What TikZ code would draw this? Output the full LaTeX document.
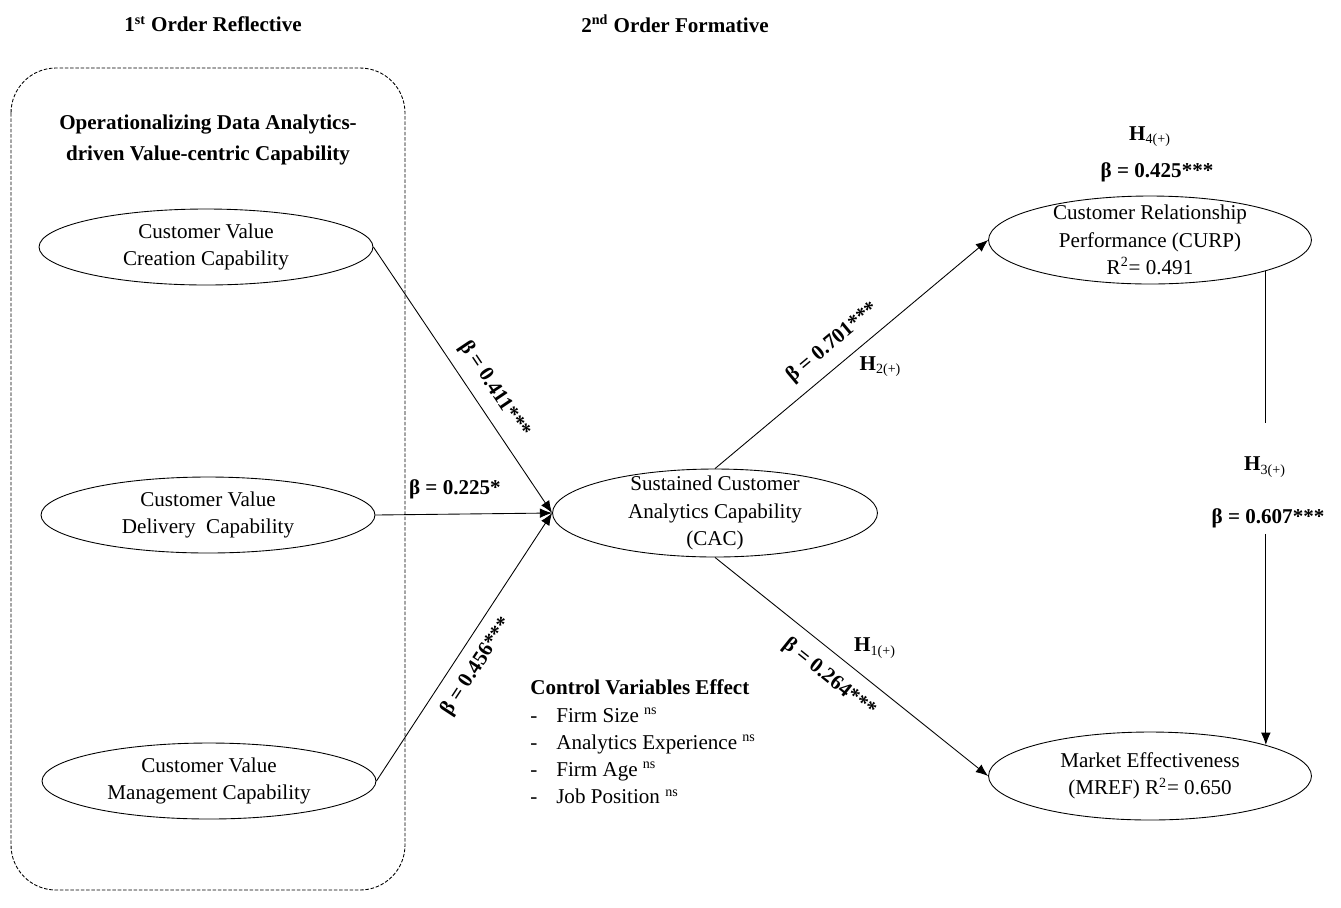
\documentclass[tikz,border=0pt]{standalone}
\usepackage{fontspec}
\setmainfont{Liberation Serif}
\usetikzlibrary{shapes.geometric,arrows.meta}

\tikzset{
  construct/.style={ellipse, draw, inner sep=0pt, minimum width=6.68cm, minimum height=1.52cm, align=center},
  bigconstruct/.style={ellipse, draw, minimum width=6.46cm, minimum height=1.76cm, align=center},
  coef/.style={font=\fontsize{12}{15.5}\selectfont\bfseries},
  path/.style={-{Latex[length=7pt,width=5.5pt]}},
}

\begin{document}
\begin{tikzpicture}[x=0.02cm, y=-0.02cm, font=\fontsize{12}{15.5}\selectfont, line width=0.5pt]
    \useasboundingbox (0,0) rectangle (1341,907);

    \node[coef] at (213,24) (reflective) {1\textsuperscript{st} Order Reflective};
    \node[coef] at (675,24) (formative) {2\textsuperscript{nd} Order Formative};

    % first order block
    \draw[dash pattern=on 2pt off 1pt, rounded corners=0.9cm] (11,68) rectangle (405,890);
    \node[coef, align=center] at (208,140) (block) {Operationalizing Data Analytics-\\[2pt]driven Value-centric Capability};

    \node[construct] at (206,247) (creation) {Customer Value\\Creation Capability};
    \node[construct] at (208,515) (delivery) {Customer Value\\Delivery~ Capability};
    \node[construct] at (209,781) (management) {Customer Value\\Management Capability};

    % second order and outcomes
    \node[bigconstruct, minimum width=6.5cm] at (715,513) (cac) {};
    \node[align=center] at (cac) (cactext) {Sustained Customer\\Analytics Capability\\(CAC)};
    \node[bigconstruct] at (1150,240) (curp) {};
    \node[align=center] at (curp) (curptext) {Customer Relationship\\Performance (CURP)\\R\textsuperscript{2}= 0.491};
    \node[bigconstruct] at (1150,776) (mref) {Market Effectiveness\\(MREF) R\textsuperscript{2}= 0.650};

    \node[coef] at (1150,137) (h4) {H\textsubscript{\mdseries 4(+)}};
    \node[coef] at (1157,172) (b7) {β = 0.425***};
    \node[coef] at (1265,467) (h3) {H\textsubscript{\mdseries 3(+)}};
    \node[coef] at (1268,518) (b6) {β = 0.607***};
    \coordinate (gap) at (1263,423);

    \node[anchor=west, align=left] at (524,742) (controls) {\textbf{Control Variables Effect}\\
      \makebox[0.52cm][l]{-}Firm Size \textsuperscript{ns}\\
      \makebox[0.52cm][l]{-}Analytics Experience \textsuperscript{ns}\\
      \makebox[0.52cm][l]{-}Firm Age \textsuperscript{ns}\\
      \makebox[0.52cm][l]{-}Job Position \textsuperscript{ns}};

    \draw[path] (creation.east) to node[coef, sloped, above=3pt, pos=0.58] (b1) {β = 0.411***} (cac.west);
    \draw[path] (delivery.east) to node[coef, above=0.18cm, pos=0.45] (b2) {β = 0.225*} (cac.west);
    \draw[path] (management.east) to node[coef, sloped, below=3pt, pos=0.47] (b3) {β = 0.456***} (cac.west);
    \draw[path] (cac.north) to node[coef, sloped, above=3pt, pos=0.48] (b4) {β = 0.701***}
        node[coef, pos=0.54, xshift=0.36cm, yshift=-0.43cm] (h2) {H\textsubscript{\mdseries 2(+)}} (curp.west);
    \draw[path] (cac.south) to node[coef, sloped, below=4pt, pos=0.47] (b5) {β = 0.264***}
        node[coef, pos=0.52, xshift=0.36cm, yshift=0.46cm] (h1) {H\textsubscript{\mdseries 1(+)}} (mref.west);
    \draw (curp.-15.5) to (curp.-15.5 |- gap);
    \draw[path] (mref.15.5 |- b6.south) to (mref.15.5);
  \end{tikzpicture}
\end{document}
